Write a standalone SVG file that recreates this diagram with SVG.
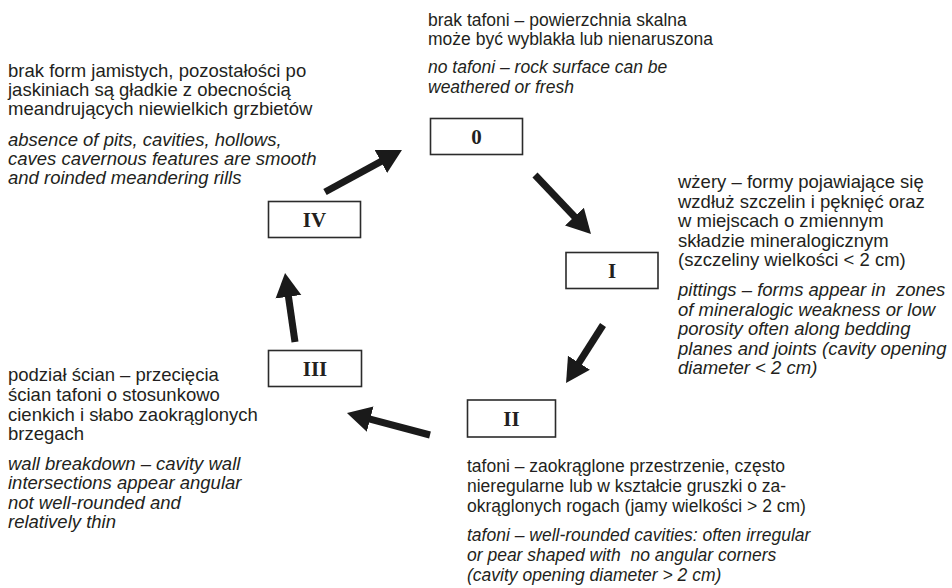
<svg xmlns="http://www.w3.org/2000/svg" width="952" height="588" viewBox="0 0 952 588">
<style>
.bg{fill:#fff}
.box{fill:#fff;stroke:#2b2b2b;stroke-width:1.6}
.lbl{font-family:"Liberation Serif","Times New Roman",serif;font-weight:bold;font-size:21px;fill:#231f20;text-anchor:middle;dominant-baseline:central}
.t{font-family:"Liberation Sans",Arial,sans-serif;fill:#231f20;white-space:pre}
.s1{font-size:17.5px}
.s2{font-size:18.5px}
.it{font-style:italic}
.arr{stroke:#1a1a1a;stroke-width:7;fill:none;marker-end:url(#ah)}
</style>
<defs>
<marker id="ah" markerUnits="userSpaceOnUse" markerWidth="26" markerHeight="28" viewBox="0 -14 26 28" refX="4" refY="0" orient="auto">
<path d="M0,-13 L24,0 L0,13 Z" fill="#1a1a1a"/>
</marker>
</defs>
<rect class="bg" width="952" height="588"/>

<g id="connectors">
<line class="arr" x1="325" y1="192" x2="384.4" y2="159.6"/>
<line class="arr" x1="535" y1="175" x2="577.2" y2="219.5"/>
<line class="arr" x1="603" y1="325" x2="576.8" y2="366.1"/>
<line class="arr" x1="430" y1="435" x2="366.3" y2="418.1"/>
<line class="arr" x1="295" y1="342" x2="287.9" y2="292.8"/>
</g>

<g id="node-0">
<rect class="box" x="430.5" y="118.5" width="92" height="36"/>
<text class="lbl" x="476.5" y="137">0</text>
</g>
<g id="node-I">
<rect class="box" x="566" y="252.5" width="92" height="36"/>
<text class="lbl" x="612" y="271">I</text>
</g>
<g id="node-II">
<rect class="box" x="467.5" y="400" width="88" height="37"/>
<text class="lbl" x="511.5" y="419">II</text>
</g>
<g id="node-III">
<rect class="box" x="268.5" y="350.5" width="93" height="36"/>
<text class="lbl" x="315" y="369">III</text>
</g>
<g id="node-IV">
<rect class="box" x="268.5" y="201.5" width="92" height="36"/>
<text class="lbl" x="314.5" y="220">IV</text>
</g>

<g id="desc-0">
<text class="t s1" x="428" y="26">brak tafoni – powierzchnia skalna</text>
<text class="t s1" x="428" y="45">może być wyblakła lub nienaruszona</text>
<text class="t s1 it" x="428" y="73">no tafoni – rock surface can be</text>
<text class="t s1 it" x="428" y="93">weathered or fresh</text>
</g>
<g id="desc-IV">
<text class="t s2" x="8" y="77">brak form jamistych, pozostałości po</text>
<text class="t s2" x="8" y="96">jaskiniach są gładkie z obecnością</text>
<text class="t s2" x="8" y="115">meandrujących niewielkich grzbietów</text>
<text class="t s2 it" x="8" y="146">absence of pits, cavities, hollows,</text>
<text class="t s2 it" x="8" y="165">caves cavernous features are smooth</text>
<text class="t s2 it" x="8" y="184">and roinded meandering rills</text>
</g>
<g id="desc-I">
<text class="t s2" x="678" y="188">wżery – formy pojawiające się</text>
<text class="t s2" x="678" y="207.5">wzdłuż szczelin i pęknięć oraz</text>
<text class="t s2" x="678" y="227">w miejscach o zmiennym</text>
<text class="t s2" x="678" y="246.5">składzie mineralogicznym</text>
<text class="t s2" x="678" y="266">(szczeliny wielkości &lt; 2 cm)</text>
<text class="t s2 it" x="678" y="296">pittings – forms appear in  zones</text>
<text class="t s2 it" x="678" y="315.5">of mineralogic weakness or low</text>
<text class="t s2 it" x="678" y="335">porosity often along bedding</text>
<text class="t s2 it" x="678" y="354.5">planes and joints (cavity opening</text>
<text class="t s2 it" x="678" y="374">diameter &lt; 2 cm)</text>
</g>
<g id="desc-III">
<text class="t s2" x="8" y="381">podział ścian – przecięcia</text>
<text class="t s2" x="8" y="401">ścian tafoni o stosunkowo</text>
<text class="t s2" x="8" y="421">cienkich i słabo zaokrąglonych</text>
<text class="t s2" x="8" y="440">brzegach</text>
<text class="t s2 it" x="8" y="470">wall breakdown – cavity wall</text>
<text class="t s2 it" x="8" y="489">intersections appear angular</text>
<text class="t s2 it" x="8" y="509">not well-rounded and</text>
<text class="t s2 it" x="8" y="528">relatively thin</text>
</g>
<g id="desc-II">
<text class="t s1" x="467" y="472">tafoni – zaokrąglone przestrzenie, często</text>
<text class="t s1" x="467" y="492">nieregularne lub w kształcie gruszki o za-</text>
<text class="t s1" x="467" y="512">okrąglonych rogach (jamy wielkości &gt; 2 cm)</text>
<text class="t s1 it" x="467" y="541">tafoni – well-rounded cavities: often irregular</text>
<text class="t s1 it" x="467" y="561">or pear shaped with  no angular corners</text>
<text class="t s1 it" x="467" y="581">(cavity opening diameter &gt; 2 cm)</text>
</g>
</svg>
